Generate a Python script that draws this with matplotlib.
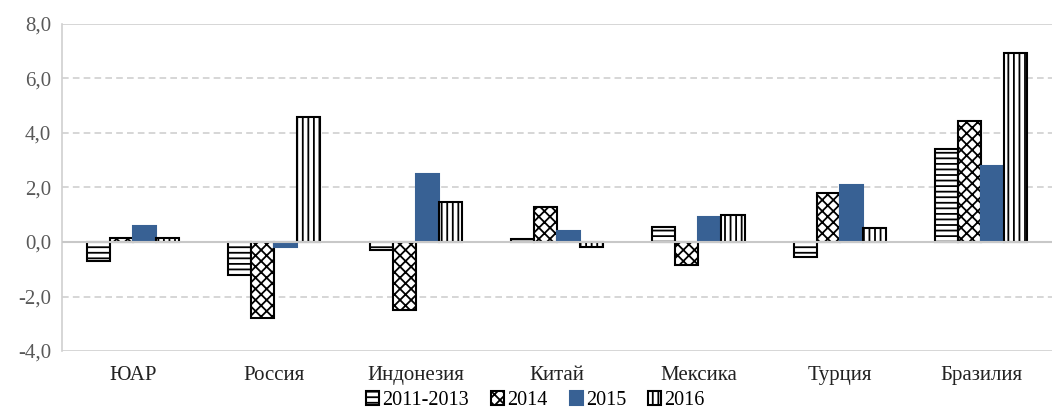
import numpy as np
import matplotlib
matplotlib.use('Agg')
import matplotlib.pyplot as plt
from matplotlib.ticker import FuncFormatter

plt.rcParams['font.family'] = ['Liberation Serif', 'DejaVu Serif']
plt.rcParams['hatch.linewidth'] = 1.3

countries = ['ЮАР', 'Россия', 'Индонезия', 'Китай', 'Мексика', 'Турция', 'Бразилия']
series = ['2011-2013', '2014', '2015', '2016']
v_2011_2013 = [-0.7, -1.2, -0.3, 0.1, 0.55, -0.55, 3.4]
v_2014 = [0.15, -2.8, -2.5, 1.3, -0.85, 1.8, 4.45]
v_2015 = [0.6, -0.2, 2.5, 0.4, 0.9, 2.1, 2.8]
v_2016 = [0.15, 4.6, 1.45, -0.2, 1.0, 0.5, 6.95]

values = [v_2011_2013, v_2014, v_2015, v_2016]
hatches = ['---', 'xxx', None, '|||']
faces = ['white', 'white', '#386194', 'white']
edges = ['black', 'black', '#386194', 'black']

fig = plt.figure(figsize=(10.54, 4.12), dpi=100)
ax = fig.add_axes([0.059, 0.148, 0.939, 0.794])

x = np.arange(len(countries))
w = 0.163
for i, (vals, h, fc, ec) in enumerate(zip(values, hatches, faces, edges)):
    ax.bar(x + (i - 1.5) * w, vals, w, color=fc, edgecolor=ec, hatch=h,
           linewidth=1.5, label=series[i], zorder=3)

ax.set_xlim(-0.5, len(countries) - 0.5)
ax.set_ylim(-4, 8)
ax.set_yticks(np.arange(-4, 8.1, 2))
ax.yaxis.set_major_formatter(FuncFormatter(lambda v, p: f'{v:.1f}'.replace('.', ',')))
ax.set_xticks(x)
ax.set_xticklabels(countries)
ax.tick_params(axis='both', length=0, labelsize=15, colors='#222222')
ax.tick_params(axis='y', labelcolor='#595959', pad=8)
ax.tick_params(axis='x', pad=11)

for yv in [2, 4, 6, -2]:
    ax.axhline(yv, color='#d0d0d0', lw=1.2, ls=(0, (4, 2.5)), zorder=1)
for yv in [8, -4]:
    ax.axhline(yv, color='#d0d0d0', lw=1.2, zorder=1)
ax.axhline(0, color='#c8c8c8', lw=1.5, zorder=4)

for s in ['top', 'right', 'bottom']:
    ax.spines[s].set_visible(False)
ax.spines['left'].set_color('#d0d0d0')
ax.spines['left'].set_linewidth(1.2)

ax.legend(loc='upper center', bbox_to_anchor=(0.478, -0.122), ncol=4, frameon=False,
          fontsize=14.5, handlelength=0.65, handleheight=0.65, handletextpad=0.15,
          columnspacing=1.1, borderaxespad=0, borderpad=0)

fig.savefig('out.png', dpi=100)
